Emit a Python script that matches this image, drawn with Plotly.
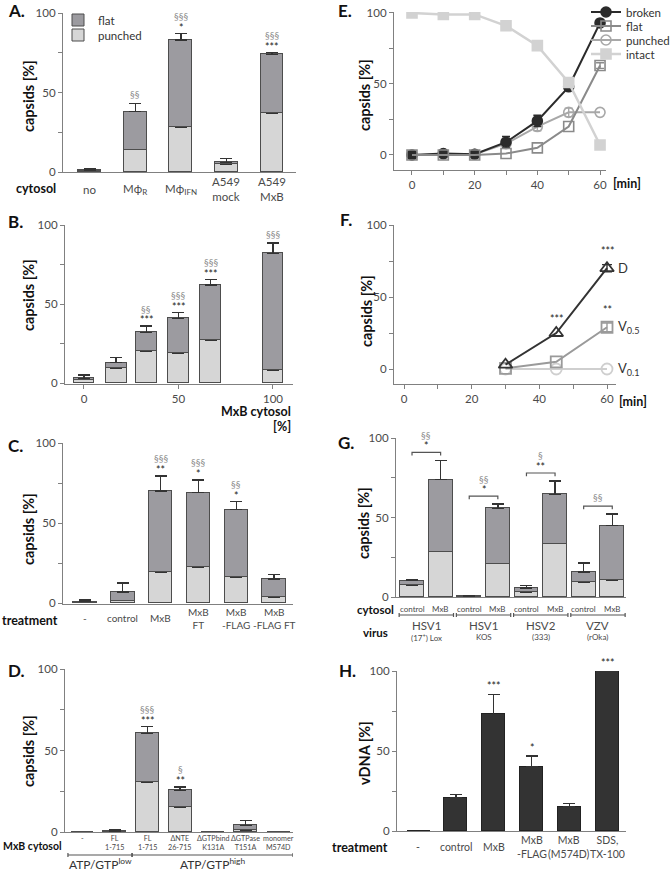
import plotly.graph_objects as go

W, H = 672, 872
FONT = "Lato, 'Open Sans', sans-serif"
FLAT_C = "#9c9ba0"
PUNCH_C = "#d6d6d6"
EDGE_C = "#4d4d4d"
ERR_C = "#333333"
AX_C = "#808080"
TICK_TXT = "#4a4a4a"
SECT_C = "#8c8c8c"
STAR_C = "#222222"
BOLD_C = "#111111"

# ---------------- Panel A ----------------
a_labels = ["no", "Mϕ<sub>R</sub>", "Mϕ<sub>IFN</sub>", "A549<br>mock", "A549<br>MxB"]
a_punched = [0.5, 14, 28, 5, 37]
a_punched_err = [0, 1.5, 3.5, 1.5, 4]
a_total = [1.3, 38, 83, 6, 74]
a_total_err = [0.6, 5, 4, 2.5, 1]
a_star = ["", "", "*", "", "***"]
a_sect = ["", "§§", "§§§", "", "§§§"]

# ---------------- Panel B ----------------
b_x = [0, 17, 33, 50, 67, 100]
b_punched = [2, 9.5, 20, 19, 27, 8]
b_punched_err = [0, 2, 1, 3, 7.5, 4]
b_total = [3, 13, 32, 41, 62, 82]
b_total_err = [2, 3, 4, 3.5, 3.5, 6.5]
b_star = ["", "", "***", "***", "***", ""]
b_sect = ["", "", "§§", "§§§", "§§§", "§§§"]

# ---------------- Panel C ----------------
c_labels = ["-", "control", "MxB", "MxB<br>FT", "MxB<br>-FLAG", "MxB<br>-FLAG FT"]
c_punched = [0.5, 1.5, 19.5, 22.5, 16.3, 3.8]
c_punched_err = [0, 0.5, 5.6, 9.2, 13.3, 1.9]
c_total = [0.8, 7, 70, 69, 58.3, 15]
c_total_err = [1.2, 5.6, 9.5, 8, 5, 3]
c_star = ["", "", "**", "*", "*", ""]
c_sect = ["", "", "§§§", "§§§", "§§", ""]

# ---------------- Panel D ----------------
d_labels = ["-", "FL<br>1-715", "FL<br>1-715", "ΔNTE<br>26-715", "ΔGTPbind<br>K131A",
            "ΔGTPase<br>T151A", "monomer<br>M574D"]
d_punched = [0, 0.3, 30.8, 15.4, 0, 1, 0]
d_punched_err = [0, 0, 11.9, 7.6, 0, 1.7, 0]
d_total = [0, 0.6, 60.6, 25.5, 0, 4.1, 0]
d_total_err = [0, 1, 4.1, 2.2, 0, 2.9, 0]
d_star = ["", "", "***", "**", "", "", ""]
d_sect = ["", "", "§§§", "§", "", "", ""]
d_groups = ["ATP/GTP<sup>low</sup>", "ATP/GTP<sup>high</sup>"]

# ---------------- Panel E ----------------
e_t = [0, 10, 20, 30, 40, 50, 60]
e_broken = [0, 1, 0.5, 9, 24, 48, 93]
e_broken_err = [0, 0, 0, 4, 4, 0, 0]
e_flat = [0, 0, 0, 1, 5, 20, 63]
e_flat_err = [0, 0, 0, 0, 0, 0, 2]
e_punched = [0, 0.5, 0.5, 8, 20, 30, 30]
e_punched_err = [0, 0, 0, 0, 3, 3, 0]
e_intact = [100, 99, 99, 91, 77, 51, 7]
e_intact_err = [0, 0, 0, 3, 3, 3, 0]

# ---------------- Panel F ----------------
f_t = [30, 45, 60]
f_D = [3, 25, 70]
f_D_err = [0, 0, 2.5]
f_V05 = [0.5, 5, 29]
f_V05_err = [0, 0, 3]
f_V01 = [0, 0, 0]
f_D_star = ["", "***", "***"]
f_V05_star = ["", "", "**"]

# ---------------- Panel G ----------------
g_cyto = ["control", "MxB", "control", "MxB", "control", "MxB", "control", "MxB"]
g_virus = ["HSV1", "HSV1", "HSV2", "VZV"]
g_strain = ["(17<sup>+</sup>) Lox", "KOS", "(333)", "(rOka)"]
g_punched = [7.3, 28.6, 0.2, 21, 2.9, 33.6, 9.4, 10.4]
g_punched_err = [1.1, 4, 0, 16, 1.5, 6.9, 1.2, 2.8]
g_total = [10.2, 73.9, 0.4, 55.7, 5.6, 64.5, 15.7, 44.9]
g_total_err = [0.7, 12.1, 0.6, 2.8, 1.5, 8.5, 5.6, 7.3]
g_star = ["*", "*", "**", ""]
g_sect = ["§§", "§§", "§", "§§"]

# ---------------- Panel H ----------------
h_labels = ["-", "control", "MxB", "MxB<br>-FLAG", "MxB<br>(M574D)", "SDS,<br>TX-100"]
h_vals = [0, 20.6, 73, 40.2, 15.2, 100]
h_err = [0, 2.4, 12.4, 6.7, 2.1, 0]
h_star = ["", "", "***", "*", "", "***"]


def PX(x):
    return x / W


def PY(y):
    return 1 - y / H


def errs(vals):
    return [v if v else "NaN" for v in vals]


fig = go.Figure()


def eb(e, color=ERR_C, sym=False, width=6):
    d = dict(type="data", array=errs(e), color=color, thickness=1.4, width=width)
    if sym:
        d["symmetric"] = True
    else:
        d["symmetric"] = False
        d["arrayminus"] = ["NaN"] * len(e)
    return d


def stacked(xs, punched, p_err, total, t_err, width, xa, ya, lg_flat=None, lg_punch=None):
    flat = [t - p for t, p in zip(total, punched)]
    fig.add_trace(go.Bar(
        x=xs, y=punched, width=width, name="punched",
        marker=dict(color=PUNCH_C, line=dict(color=EDGE_C, width=1)),
        error_y=eb(p_err), xaxis=xa, yaxis=ya,
        showlegend=lg_punch is not None, legend=lg_punch or "legend"))
    fig.add_trace(go.Bar(
        x=xs, y=flat, width=width, name="flat",
        marker=dict(color=FLAT_C, line=dict(color=EDGE_C, width=1)),
        error_y=eb(t_err), xaxis=xa, yaxis=ya,
        showlegend=lg_flat is not None, legend=lg_flat or "legend"))


stacked(list(range(len(a_labels))), a_punched, a_punched_err, a_total, a_total_err, 0.5,
        "x", "y", lg_flat="legend", lg_punch="legend2")
stacked(b_x, b_punched, b_punched_err, b_total, b_total_err, 11, "x3", "y3")
stacked(list(range(len(c_labels))), c_punched, c_punched_err, c_total, c_total_err, 0.62, "x5", "y5")
stacked(list(range(len(g_cyto))), g_punched, g_punched_err, g_total, g_total_err, 0.83, "x6", "y6")
stacked(list(range(len(d_labels))), d_punched, d_punched_err, d_total, d_total_err, 0.7, "x7", "y7")
fig.add_trace(go.Bar(x=list(range(len(h_labels))), y=h_vals, width=0.61, name="vDNA",
                     marker=dict(color="#333333", line=dict(color="#222222", width=1)),
                     error_y=eb(h_err), xaxis="x8", yaxis="y8", showlegend=False))

E_STY = {
    "punched": dict(color="#a8a8a8", symbol="circle-open", lw=2),
    "broken": dict(color="#2b2b2b", symbol="circle", lw=2),
    "flat": dict(color="#8a8a8a", symbol="square-open", lw=2),
    "intact": dict(color="#d2d2d2", symbol="square", lw=2.5),
}
e_series = [("punched", e_punched, e_punched_err, "legend5"),
            ("broken", e_broken, e_broken_err, "legend3"),
            ("flat", e_flat, e_flat_err, "legend4"),
            ("intact", e_intact, e_intact_err, "legend6")]
for name, vals, err, lg in e_series:
    s = E_STY[name]
    fig.add_trace(go.Scatter(
        x=e_t, y=vals, name=name, mode="lines+markers", xaxis="x2", yaxis="y2",
        line=dict(color=s["color"], width=s["lw"]),
        marker=dict(symbol=s["symbol"], size=10, color=s["color"],
                    line=dict(color=s["color"], width=1.6)),
        error_y=eb(err, color=s["color"], sym=True, width=4),
        legend=lg, showlegend=True))

f_series = [("V0.1", f_V01, [0, 0, 0], "#cfcfcf", "circle-open", 11),
            ("V0.5", f_V05, f_V05_err, "#9a9a9a", "square-open", 11),
            ("D", f_D, f_D_err, "#333333", "triangle-up-open", 12)]
for name, vals, err, col, sym, sz in f_series:
    fig.add_trace(go.Scatter(
        x=f_t, y=vals, name=name, mode="lines+markers", xaxis="x4", yaxis="y4",
        line=dict(color=col, width=2),
        marker=dict(symbol=sym, size=sz, color=col, line=dict(color=col, width=1.8)),
        error_y=eb(err, color=col, sym=True, width=5), showlegend=False))


def minor(vals):
    return dict(tickvals=vals, ticks="outside", ticklen=4, tickwidth=1.2, tickcolor=AX_C)


def yax(bot, top, rng, anchor):
    return dict(domain=[PY(bot), PY(top)], range=rng, anchor=anchor, showline=True,
                linecolor=AX_C, linewidth=1.2, ticks="outside", ticklen=4, tickwidth=1.2,
                tickcolor=AX_C, tickvals=[0, 50, 100], minor=minor([25, 75]),
                tickfont=dict(size=11.5, color=TICK_TXT, family=FONT),
                showgrid=False, zeroline=False, fixedrange=True)


def xax(left, right, rng, anchor, tv=None, mv=None):
    d = dict(domain=[PX(left), PX(right)], range=rng, anchor=anchor, showline=True,
             linecolor=AX_C, linewidth=1.2, showgrid=False, zeroline=False, fixedrange=True)
    if tv is not None:
        d.update(ticks="outside", ticklen=4, tickwidth=1.2, tickcolor=AX_C, tickvals=tv,
                 tickfont=dict(size=11.5, color=TICK_TXT, family=FONT))
        if mv:
            d["minor"] = minor(mv)
    else:
        d.update(ticks="", showticklabels=False)
    return d


layout_axes = dict(
    xaxis=xax(63, 296, [-0.59, 4.53], "y"),
    yaxis=yax(172, 13, [0, 100], "x"),
    xaxis2=xax(394, 606, [-5.74, 61.9], "y2", [0, 20, 40, 60], [10, 30, 50]),
    yaxis2=yax(170, 12, [-10.6, 100.7], "x2"),
    xaxis3=xax(65, 293, [-10.05, 110.6], "y3", [0, 50, 100]),
    yaxis3=yax(384, 225, [-0.6, 100], "x3"),
    xaxis4=xax(394, 616, [-2.96, 62.66], "y4", [0, 20, 40, 60], [10, 30, 50]),
    yaxis4=yax(384, 225, [-10.4, 100], "x4"),
    xaxis5=xax(63, 293, [-0.58, 5.5], "y5"),
    yaxis5=yax(604, 443, [-0.6, 100], "x5"),
    xaxis6=xax(396, 626, [-0.56, 7.48], "y6"),
    yaxis6=yax(597, 438, [0, 100], "x6"),
    xaxis7=xax(65, 293, [-0.52, 6.45], "y7"),
    yaxis7=yax(832, 669, [0, 100], "x7"),
    xaxis8=xax(397, 626, [-0.56, 5.5], "y8"),
    yaxis8=yax(831, 671, [0, 100], "x8"),
)

ann = []


def text(x, y, t, size=12, color=TICK_TXT, xref="paper", yref="paper", xanchor="center",
         yanchor="middle", bold=False, angle=0, xshift=0, yshift=0):
    ann.append(dict(x=x, y=y, xref=xref, yref=yref, text=("<b>%s</b>" % t) if bold else t,
                    showarrow=False, xanchor=xanchor, yanchor=yanchor, textangle=angle,
                    xshift=xshift, yshift=yshift,
                    font=dict(size=size, color=color, family=FONT)))


def sig(xs, tops, stars, sects, xa, ya, s_shift=6, p_shift=17, p_alone=9):
    for x, t, s, p in zip(xs, tops, stars, sects):
        if s:
            text(x, t, s, size=10.5, color=STAR_C, xref=xa, yref=ya, yshift=s_shift)
        if p:
            text(x, t, p, size=9.5, color=SECT_C, xref=xa, yref=ya,
                 yshift=p_shift if s else p_alone)


def tops(total, err):
    return [t + e for t, e in zip(total, err)]


sig(range(5), tops(a_total, a_total_err), a_star, a_sect, "x", "y")
sig(b_x, tops(b_total, b_total_err), b_star, b_sect, "x3", "y3")
sig(range(6), tops(c_total, c_total_err), c_star, c_sect, "x5", "y5")
sig(range(7), tops(d_total, d_total_err), d_star, d_sect, "x7", "y7")
sig(range(6), tops(h_vals, h_err), h_star, [""] * 6, "x8", "y8", s_shift=8)
sig(f_t, tops(f_D, f_D_err), f_D_star, [""] * 3, "x4", "y4", s_shift=14)
sig(f_t, tops(f_V05, f_V05_err), f_V05_star, [""] * 3, "x4", "y4", s_shift=13)

shapes = []
g_tops = tops(g_total, g_total_err)
for i in range(4):
    x0, x1 = 2 * i, 2 * i + 1
    yb = max(g_tops[x0], g_tops[x1]) + 5
    shapes.append(dict(type="path", xref="x6", yref="y6",
                       path="M %g,%g L %g,%g L %g,%g L %g,%g" % (x0, yb - 2, x0, yb, x1, yb, x1, yb - 2),
                       line=dict(color="#555555", width=1.2)))
    sig([i * 2 + 0.5], [yb], [g_star[i]], [g_sect[i]], "x6", "y6", s_shift=6, p_shift=17, p_alone=9)

text(60, f_D[-1], "D", size=13, color="#333333", xref="x4", yref="y4", xanchor="left", xshift=9)
text(60, f_V05[-1], "V<sub>0.5</sub>", size=13, color="#333333", xref="x4", yref="y4",
     xanchor="left", xshift=9)
text(60, f_V01[-1], "V<sub>0.1</sub>", size=13, color="#333333", xref="x4", yref="y4",
     xanchor="left", xshift=9)

for i, l in enumerate(a_labels):
    text(i, PY(189), l, size=11.5, xref="x")
for i, l in enumerate(c_labels):
    text(i, PY(618), l, size=10, xref="x5")
for i, l in enumerate(d_labels):
    text(i, PY(832), l, size=7.2, xref="x7", yanchor="top")
for i, l in enumerate(g_cyto):
    text(i, PY(609), l, size=8, xref="x6")
for i, l in enumerate(h_labels):
    text(i, PY(847), l, size=10.5, xref="x8")
for i in range(4):
    text(2 * i + 0.5, PY(625), g_virus[i], size=11.5, xref="x6")
    text(2 * i + 0.5, PY(637), g_strain[i], size=8, xref="x6")

for i in range(4):
    a0, a1 = 2 * i - 0.45, 2 * i + 1.45
    shapes.append(dict(type="line", xref="x6", yref="paper", x0=a0, x1=a1, y0=PY(615), y1=PY(615),
                       line=dict(color="#555555", width=1.2)))
    for xx in (a0, a1):
        shapes.append(dict(type="line", xref="x6", yref="paper", x0=xx, x1=xx, y0=PY(613), y1=PY(617),
                           line=dict(color="#555555", width=1.2)))
for (a0, a1), lab in zip([(-0.43, 1.53), (1.53, 6.45)], d_groups):
    shapes.append(dict(type="line", xref="x7", yref="paper", x0=a0, x1=a1, y0=PY(855), y1=PY(855),
                       line=dict(color="#555555", width=1.2)))
    for xx in (a0, a1):
        shapes.append(dict(type="line", xref="x7", yref="paper", x0=xx, x1=xx, y0=PY(853), y1=PY(857),
                           line=dict(color="#555555", width=1.2)))
    text((a0 + a1) / 2, PY(864), lab, size=12, color="#333333", xref="x7")

text(PX(58), PY(188), "cytosol", size=12.5, color=BOLD_C, xanchor="right", bold=True)
text(PX(293), PY(411), "MxB cytosol", size=12.5, color=BOLD_C, xanchor="right", bold=True)
text(PX(293), PY(426), "[%]", size=12.5, color=BOLD_C, xanchor="right", bold=True)
text(PX(60), PY(620), "treatment", size=12.5, color=BOLD_C, xanchor="right", bold=True)
text(PX(64), PY(846), "MxB cytosol", size=10.5, color=BOLD_C, xanchor="right", bold=True)
text(PX(375), PY(609), "cytosol", size=11.5, color=BOLD_C, bold=True)
text(PX(375), PY(632), "virus", size=11.5, color=BOLD_C, bold=True)
text(PX(390), PY(847), "treatment", size=12.5, color=BOLD_C, xanchor="right", bold=True)
text(PX(627), PY(183), "[min]", size=12.5, color=BOLD_C, bold=True)
text(PX(633), PY(401), "[min]", size=12.5, color=BOLD_C, bold=True)

for xc, yc, t in [(28, 96, "capsids [%]"), (364, 95, "capsids [%]"), (28, 295, "capsids [%]"),
                  (366, 311, "capsids [%]"), (28, 529, "capsids [%]"), (363, 523, "capsids [%]"),
                  (28, 751, "capsids [%]"), (364, 753, "vDNA [%]")]:
    text(PX(xc), PY(yc), t, size=14.5, color=BOLD_C, angle=-90, bold=True)

for xl, yl, t in [(6, 11, "A."), (336, 11, "E."), (6, 222, "B."), (338, 220, "F."),
                  (6, 445, "C."), (336, 442, "G."), (6, 670, "D."), (337, 670, "H.")]:
    text(PX(xl), PY(yl), t, size=17, color=BOLD_C, xanchor="left", bold=True)

legend_base = dict(xanchor="left", yanchor="middle", bgcolor="rgba(0,0,0,0)",
                   font=dict(size=11.5, color="#333333", family=FONT), itemwidth=30,
                   tracegroupgap=0)
legends = {}
for key, x, y in [("legend", 58, 20), ("legend2", 58, 35),
                  ("legend3", 586, 12), ("legend4", 586, 26), ("legend5", 586, 40),
                  ("legend6", 586, 54)]:
    d = dict(legend_base)
    d.update(x=PX(x), y=PY(y))
    legends[key] = d

fig.update_layout(
    width=W, height=H, margin=dict(l=0, r=0, t=0, b=0, autoexpand=False),
    paper_bgcolor="white", plot_bgcolor="white", barmode="stack", bargap=0,
    font=dict(family=FONT, size=12, color=TICK_TXT),
    annotations=ann, shapes=shapes, showlegend=True,
    **layout_axes, **legends,
)

fig.write_html("out.html", config={"displayModeBar": False},
               post_script="document.body.style.margin='0';document.body.style.overflow='hidden';")
